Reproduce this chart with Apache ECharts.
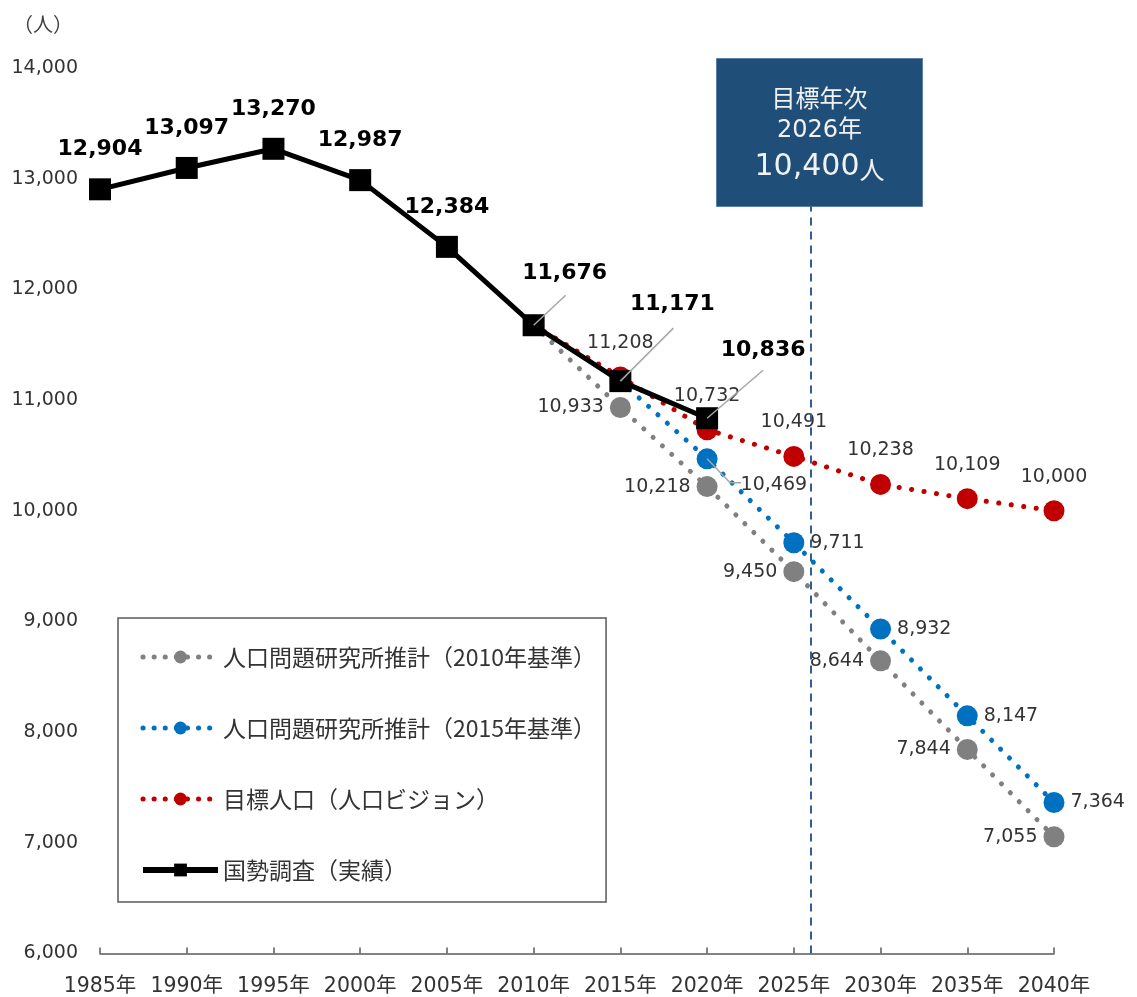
<!DOCTYPE html>
<html><head><meta charset="utf-8">
<script src="https://cdn.jsdelivr.net/npm/echarts@6/dist/echarts.min.js"></script>
<style>html,body{margin:0;padding:0;background:#fff}#c{width:1137px;height:997px}</style>
</head><body><div id="c"></div>
<script>
const categories = ['1985年','1990年','1995年','2000年','2005年','2010年','2015年','2020年','2025年','2030年','2035年','2040年'];
const actual   = [12904,13097,13270,12987,12384,11676,11171,10836,null,null,null,null];
const ipss2010 = [null,null,null,null,null,11676,10933,10218,9450,8644,7844,7055];
const ipss2015 = [null,null,null,null,null,null,11171,10469,9711,8932,8147,7364];
const target   = [null,null,null,null,null,11676,11208,10732,10491,10238,10109,10000];
const seriesNames = ['人口問題研究所推計（2010年基準）','人口問題研究所推計（2015年基準）','目標人口（人口ビジョン）','国勢調査（実績）'];
const yTicks = [6000,7000,8000,9000,10000,11000,12000,13000,14000];
const targetYear = 2026;
const targetPop = 10400;
const yearMin = 1985, yearMax = 2040;

const fmt = v => Number(v).toLocaleString('en-US');
const NUM_FONT = "'DejaVu Sans','Noto Sans CJK JP',sans-serif";
const JP_FONT = "'Noto Sans CJK JP','DejaVu Sans',sans-serif";

// label styling (not data)
const hideLabelAt = {gray:[5], blue:[6], red:[5]};
const blackMoves = {5:[31,-12], 6:[52,-37], 7:[56,-28]};
const blueMoves = {7:[17,26]};
// leader line shapes relative to the point (pixels)
const blackLeaders = {5:[[0,0],[32,-30]], 6:[[0,0],[53,-53]], 7:[[0,0],[56,-48]]};
const blueLeaders = {7:[[0,0],[23,24],[34,24]]};

function buildData(values, hide, moves){
  return values.map((v,i)=>{
    if (v==null) return null;
    const item = {value:v};
    if (hide && hide.indexOf(i)>=0) item.label={show:false};
    if (moves && moves[i]) item.label={offset:moves[i]};
    return item;
  });
}
function dotted(color){ return {color, width:5, type:[0.1,12.5], cap:'round'}; }
const numLabel = (pos, dist) => ({show:true, position:pos, distance:dist, formatter:p=>fmt(p.value), fontFamily:NUM_FONT, fontSize:19, color:'#333'});

const chart = echarts.init(document.getElementById('c'), null, {renderer:'canvas'});
const legendDot = c => ({color:c, width:5, type:[0.1,11], cap:'round'});
chart.setOption({
  animation:false,
  backgroundColor:'#fff',
  title:{text:'（人）', left:8, top:9, textStyle:{fontFamily:JP_FONT, fontSize:20, fontWeight:'normal', color:'#404040'}},
  grid:{left:100, right:83, top:68, bottom:40, containLabel:false},
  legend:{
    orient:'vertical', left:118, top:618,
    data:[
      {name:seriesNames[0], lineStyle:legendDot('#808080')},
      {name:seriesNames[1], lineStyle:legendDot('#0070C0')},
      {name:seriesNames[2], lineStyle:legendDot('#C00000')},
      {name:seriesNames[3], lineStyle:{color:'#000', width:6}}
    ],
    borderColor:'#595959', borderWidth:1.5, borderRadius:0,
    padding:[27,10,20,22], itemGap:47, itemWidth:75, itemHeight:16,
    textStyle:{fontFamily:JP_FONT, fontSize:23, color:'#333', lineHeight:24}
  },
  xAxis:[{
    type:'category', data:categories, boundaryGap:false,
    axisLine:{lineStyle:{color:'#595959', width:1.5}},
    axisTick:{show:true, inside:true, length:6, alignWithLabel:true, lineStyle:{color:'#595959', width:1.5}},
    axisLabel:{fontFamily:NUM_FONT, fontSize:20.5, color:'#333', margin:23, interval:0},
    splitLine:{show:false}
  },{
    type:'value', min:yearMin, max:yearMax, show:false
  }],
  yAxis:{
    type:'value', min:yTicks[0], max:yTicks[yTicks.length-1], interval:1000,
    axisLine:{show:false}, axisTick:{show:false}, splitLine:{show:false},
    axisLabel:{fontFamily:NUM_FONT, fontSize:19, color:'#333', margin:22, formatter:v=>fmt(v)}
  },
  series:[
    {
      name:'dummy', type:'line', xAxisIndex:1, data:[], silent:true,
      markLine:{silent:true, symbol:'none', label:{show:false},
        lineStyle:{color:'#2E5F8E', width:2, type:[8,6]},
        data:[[{coord:[targetYear, yTicks[0]]},{coord:[targetYear, 12760]}]]}
    },
    {
      name:seriesNames[0], type:'line', data:buildData(ipss2010, hideLabelAt.gray),
      symbol:'circle', symbolSize:21, itemStyle:{color:'#808080'}, lineStyle:dotted('#808080'),
      label:numLabel('left', 6), z:2
    },
    {
      name:seriesNames[1], type:'line', data:buildData(ipss2015, hideLabelAt.blue, blueMoves),
      symbol:'circle', symbolSize:21, itemStyle:{color:'#0070C0'}, lineStyle:dotted('#0070C0'),
      label:numLabel('right', 6), z:3
    },
    {
      name:seriesNames[2], type:'line', data:buildData(target, hideLabelAt.red),
      symbol:'circle', symbolSize:21, itemStyle:{color:'#C00000'}, lineStyle:dotted('#C00000'),
      label:numLabel('top', 14), z:4
    },
    {
      name:seriesNames[3], type:'line', data:buildData(actual, null, blackMoves),
      symbol:'rect', symbolSize:22, itemStyle:{color:'#000'}, lineStyle:{color:'#000', width:5},
      label:{show:true, position:'top', distance:18, formatter:p=>fmt(p.value), fontFamily:NUM_FONT, fontSize:22, fontWeight:'bold', color:'#000'},
      z:5
    }
  ]
});

// leader lines + target box (annotations)
const graphics = [];
function addLeaders(values, leaders){
  Object.keys(leaders).forEach(k=>{
    const i = +k;
    const p = chart.convertToPixel({xAxisIndex:0, yAxisIndex:0}, [i, values[i]]);
    graphics.push({type:'polyline', z:100, silent:true,
      shape:{points:leaders[k].map(d=>[p[0]+d[0], p[1]+d[1]])},
      style:{stroke:'#A6A6A6', lineWidth:1.5, fill:null}});
  });
}
addLeaders(actual, blackLeaders);
addLeaders(ipss2015, blueLeaders);
graphics.push({
  type:'group', left:716, top:58, z:50,
  children:[
    {type:'rect', shape:{x:0,y:0,width:206,height:148}, style:{fill:'#1F4E79', stroke:'#5B7FA6', lineWidth:1}},
    {type:'text', x:103, y:39, style:{text:'目標年次', fill:'#F2F2F2', font:"24px 'Noto Sans CJK JP'", align:'center', verticalAlign:'middle'}},
    {type:'text', x:103, y:72, style:{text:targetYear+'年', fill:'#F2F2F2', font:"24px 'DejaVu Sans','Noto Sans CJK JP'", align:'center', verticalAlign:'middle'}},
    {type:'text', x:103, y:109, style:{text:'{a|'+fmt(targetPop)+'}{b|人}', align:'center', verticalAlign:'middle',
      rich:{a:{fill:'#F2F2F2', fontSize:30, fontFamily:"'DejaVu Sans'"}, b:{fill:'#F2F2F2', fontSize:25, fontFamily:"'Noto Sans CJK JP'", padding:[4,0,0,0]}}}}
  ]
});
chart.setOption({graphic:graphics});
</script></body></html>
